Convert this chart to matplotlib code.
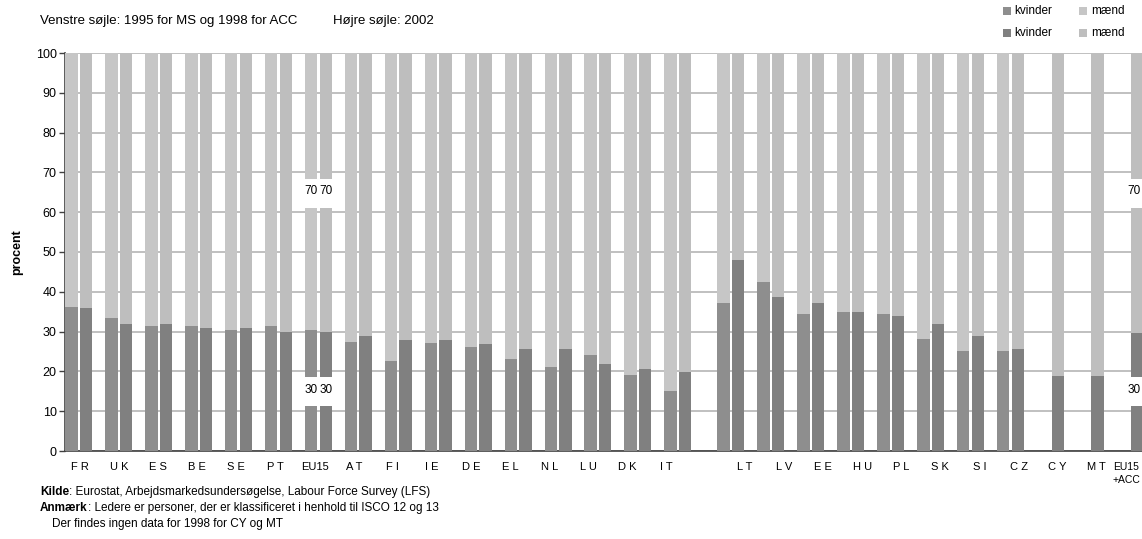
import numpy as np
import matplotlib
matplotlib.use("Agg")
import matplotlib.pyplot as plt
from matplotlib.patches import Rectangle

plt.rcParams['font.family'] = ['Liberation Sans', 'DejaVu Sans']

categories = ["F R", "U K", "E S", "B E", "S E", "P T", "EU15", "A T", "F I", "I E",
              "D E", "E L", "N L", "L U", "D K", "I T",
              "L T", "L V", "E E", "H U", "P L", "S K", "S I", "C Z", "C Y", "M T",
              "EU15\n+ACC"]
# share of women (kvinder), left bar = 1995 (MS) / 1998 (ACC), right bar = 2002
kvinder_early = [36.3, 33.3, 31.3, 31.3, 30.3, 31.3, 30.3, 27.3, 22.6, 27.2,
                 26.2, 23.1, 21.1, 24.1, 19.1, 15.0,
                 37.3, 42.4, 34.3, 35.0, 34.3, 28.2, 25.1, 25.1, np.nan, np.nan,
                 np.nan]
kvinder_2002 = [36.0, 32.0, 32.0, 31.0, 31.0, 29.8, 29.8, 29.0, 28.0, 27.9,
                26.9, 25.6, 25.6, 21.8, 20.6, 19.8,
                47.9, 38.8, 37.1, 34.8, 34.0, 32.0, 29.0, 25.7, 18.8, 18.8,
                29.7]
maend_early = [100 - v for v in kvinder_early]
maend_2002 = [100 - v for v in kvinder_2002]

# value labels drawn on broken bars
break_labels = ["30", "70"]
break_categories = ["EU15", "EU15\n+ACC"]

C_KV_L, C_MA_L = "#8e8e8e", "#c6c6c6"
C_KV_R, C_MA_R = "#808080", "#bebebe"

W, H = 1142, 539
fig = plt.figure(figsize=(W / 100, H / 100), dpi=100)
ax_l, ax_r, ax_b, ax_t = 65, 1142, 451, 53
ax = fig.add_axes([ax_l / W, 1 - ax_b / H, (ax_r - ax_l) / W, (ax_b - ax_t) / H])

n = len(categories)
idx = np.arange(n)
bar_pos = np.where(idx <= 15, idx, idx + 0.33).astype(float)
k = np.where(idx <= 15, idx, idx + 1)
lab_px = 80 + 39.1 * k
lab_px[-1] = 1126
lab_pos = (lab_px - 78.5) / 39.93
px2x = lambda p: (p - 78.5) / 39.93

bw = 0.31
off_l, off_r = -0.175, 0.19

ke = np.array(kvinder_early, float)
me = np.array(maend_early, float)
k2 = np.array(kvinder_2002, float)
m2 = np.array(maend_2002, float)

ax.bar(bar_pos + off_l, ke, bw, color=C_KV_L, zorder=3, linewidth=0)
ax.bar(bar_pos + off_l, me, bw, bottom=ke, color=C_MA_L, zorder=3, linewidth=0)
ax.bar(bar_pos + off_r, k2, bw, color=C_KV_R, zorder=3, linewidth=0)
ax.bar(bar_pos + off_r, m2, bw, bottom=k2, color=C_MA_R, zorder=3, linewidth=0)

ax.set_ylim(0, 100)
ax.set_xlim(-0.338, 26.63)
ax.set_yticks(np.arange(0, 101, 10))
ax.yaxis.grid(True, color="#c0c0c0", linewidth=1.4, zorder=0)
ax.set_axisbelow(True)
ax.set_xticks(lab_pos)
ax.set_xticklabels(categories, fontsize=8, linespacing=1.3)
ax.get_xticklabels()[-1].set_fontsize(7.5)
ax.tick_params(axis="x", length=0, pad=8)
ax.tick_params(axis="y", length=4, width=1, color="#404040", labelsize=9, pad=2, direction="out")
for s in ["top", "right"]:
    ax.spines[s].set_visible(False)
ax.spines["left"].set_color("#404040")
ax.spines["bottom"].set_color("#404040")
ax.spines["left"].set_linewidth(1.2)
ax.spines["bottom"].set_linewidth(1.2)

# broken-bar labels
breaks = {"30": (11.3, 18.5, 15.3), "70": (61.1, 68.4, 65.3)}
for cat in break_categories:
    i = categories.index(cat)
    offs = [off_l, off_r] if not np.isnan(ke[i]) else [off_r]
    for o in offs:
        x = bar_pos[i] + o
        tx = min(x, px2x(1134))
        for lab in break_labels:
            lo, hi, ty = breaks[lab]
            ax.add_patch(Rectangle((x - bw / 2 - 0.02, lo), bw + 0.04, hi - lo,
                                   facecolor="white", edgecolor="none", zorder=4))
            ax.text(tx, ty, lab, ha="center", va="center", fontsize=8.5, zorder=5,
                    clip_on=False)

fig.text(17 / W, 1 - 252 / H, "procent", rotation=90, fontsize=9, fontweight="bold",
         ha="center", va="center")

fig.text(40 / W, 1 - 21 / H, "Venstre søjle: 1995 for MS og 1998 for ACC", fontsize=9.5,
         ha="left", va="center")
fig.text(333 / W, 1 - 21 / H, "Højre søjle: 2002", fontsize=9.5, ha="left", va="center")

# legends
for (y, ck, cm) in [(11, C_KV_L, C_MA_L), (33, C_KV_R, C_MA_R)]:
    for (sx, tx, c, t) in [(1003, 1014, ck, "kvinder"), (1079, 1091, cm, "mænd")]:
        fig.patches.append(Rectangle((sx / W, 1 - (y + 4) / H), 8 / W, 8 / H,
                                     facecolor=c, edgecolor="none",
                                     transform=fig.transFigure, figure=fig))
        fig.text(tx / W, 1 - y / H, t, fontsize=8.5, ha="left", va="center")

# notes
fig.canvas.draw()
r = fig.canvas.get_renderer()
def bold_then(x, y, b, rest, fs):
    t = fig.text(x / W, 1 - y / H, b, fontsize=fs, fontweight="bold", ha="left", va="center")
    bb = t.get_window_extent(renderer=r)
    fig.text(bb.x1 / W, 1 - y / H, rest, fontsize=fs, ha="left", va="center")

bold_then(40, 492, "Kilde", ": Eurostat, Arbejdsmarkedsundersøgelse, Labour Force Survey (LFS)", 8.5)
bold_then(40, 508, "Anmærk", ": Ledere er personer, der er klassificeret i henhold til ISCO 12 og 13", 8.5)
fig.text(52 / W, 1 - 524 / H, "Der findes ingen data for 1998 for CY og MT", fontsize=8.5,
         ha="left", va="center")

fig.savefig("out.png", dpi=100)
